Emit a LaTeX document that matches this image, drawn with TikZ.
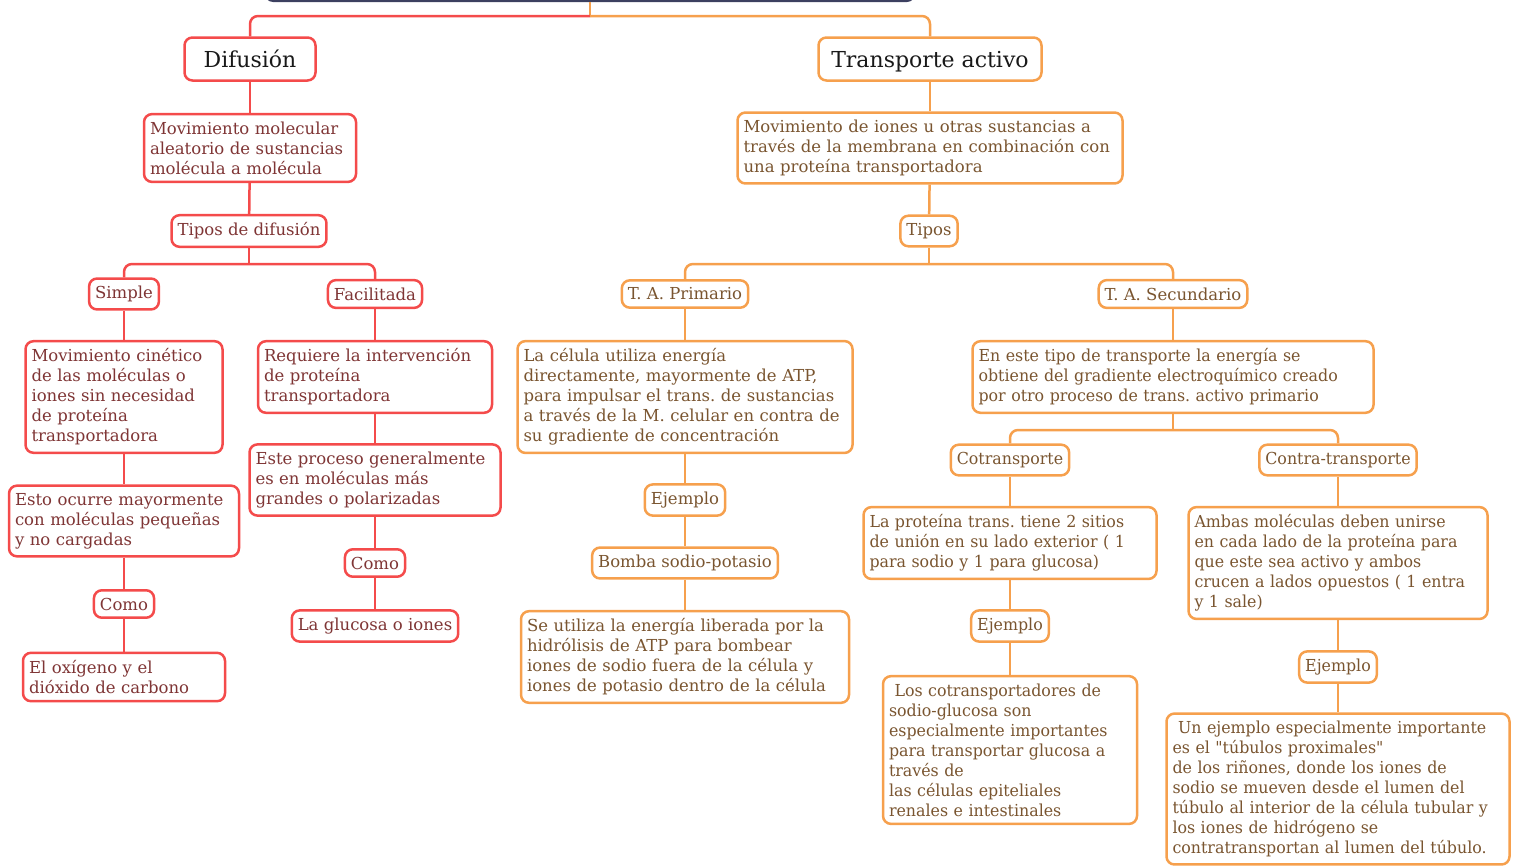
\documentclass[tikz,border=0pt]{standalone}
\usepackage{fontspec}
\setmainfont{DejaVu Serif}
\newfontfamily\narrowserif[FakeStretch=0.96]{DejaVu Serif}
\usepackage{tikz}
\definecolor{redline}{HTML}{F44B4B}
\definecolor{redtext}{HTML}{7F3535}
\definecolor{orangeline}{HTML}{F6A04D}
\definecolor{browntext}{HTML}{7A5530}
\definecolor{rootcol}{HTML}{3C4060}
\tikzset{
    box/.style={rectangle, rounded corners=8pt, line width=2.5pt, fill=white,
        inner xsep=6pt, inner ysep=7.5pt, align=left,
        font=\fontsize{16.5}{20}\selectfont},
    redbox/.style={box, draw=redline, text=redtext},
    orangebox/.style={box, draw=orangeline, text=browntext},
    narrow/.style={font=\fontsize{16.5}{20}\narrowserif},
    titlebox/.style={rectangle, rounded corners=8pt, line width=2.5pt, fill=white,
        text=black!90, font=\fontsize{22}{26}\selectfont,
        text height=16pt, text depth=0pt, minimum height=43pt},
    redlink/.style={draw=redline, line width=2.5pt, rounded corners=8pt},
    orangelink/.style={draw=orangeline, line width=2.5pt, rounded corners=8pt},
}
\frenchspacing
\begin{document}
\begin{tikzpicture}[x=1pt, y=-1pt]
    \useasboundingbox (0,0) rectangle (1515,865);
    \node[rectangle, rounded corners=8pt, fill=rootcol, minimum width=650pt, minimum height=40pt] (root) at (590,-18) {};
    \coordinate (rootsplit) at (590,16);

    \node[titlebox, draw=redline, minimum width=131pt] (dif) at (250,59) {Difusión};
    \node[redbox, text width=200pt] (movmol) at (250,148) {Movimiento molecular\\aleatorio de sustancias\\molécula a molécula};
    \node[redbox] (tiposdif) at (249,231) {Tipos de difusión};
    \coordinate (difsplit) at (249,264);
    \node[redbox] (simple) at (124,294) {Simple};
    \node[redbox] (facil) at (375,294) {Facilitada};
    \node[redbox, text width=185pt] (cinet) at (124,397) {Movimiento cinético\\de las moléculas o\\iones sin necesidad\\de proteína\\transportadora};
    \node[redbox, text width=218pt] (pequen) at (124,521) {Esto ocurre mayormente\\con moléculas pequeñas\\y no cargadas};
    \node[redbox] (comoa) at (124,604) {Como};
    \node[redbox, text width=190pt] (oxig) at (124,677) {El oxígeno y el\\dióxido de carbono};
    \node[redbox, text width=222pt] (requiere) at (375,377) {Requiere la intervención\\de proteína\\transportadora};
    \node[redbox, text width=239pt] (grandes) at (375,480) {Este proceso generalmente\\es en moléculas más\\grandes o polarizadas};
    \node[redbox] (comob) at (375,563) {Como};
    \node[redbox] (gluc) at (375,626) {La glucosa o iones};

    \node[titlebox, draw=orangeline, minimum width=223pt] (tact) at (930,59) {Transporte activo};
    \node[orangebox, text width=373pt] (movion) at (930,148) {Movimiento de iones u otras sustancias a\\través de la membrana en combinación con\\una proteína transportadora};
    \node[orangebox] (tipos) at (929,231) {Tipos};
    \coordinate (tasplit) at (929,264);
    \node[orangebox] (prim) at (685,294) {T. A. Primario};
    \node[orangebox] (secu) at (1173,294) {T. A. Secundario};
    \node[orangebox, text width=323pt] (celula) at (685,397) {La célula utiliza energía\\directamente, mayormente de ATP,\\para impulsar el trans. de sustancias\\a través de la M. celular en contra de\\su gradiente de concentración};
    \node[orangebox] (ejprim) at (685,500) {Ejemplo};
    \node[orangebox] (bomba) at (685,563) {Bomba sodio-potasio};
    \node[orangebox, text width=316pt] (hidrol) at (685,657) {Se utiliza la energía liberada por la\\hidrólisis de ATP para bombear\\iones de sodio fuera de la célula y\\iones de potasio dentro de la célula};
    \node[orangebox, narrow, text width=389pt] (gradiente) at (1173,377) {En este tipo de transporte la energía se\\obtiene del gradiente electroquímico creado\\por otro proceso de trans. activo primario};
    \coordinate (secsplit) at (1173,430);
    \node[orangebox, narrow] (cotr) at (1010,460) {Cotransporte};
    \node[orangebox, narrow] (contr) at (1338,460) {Contra-transporte};
    \node[orangebox, narrow, text width=281pt] (sitios) at (1010,543) {La proteína trans. tiene 2 sitios\\de unión en su lado exterior ( 1\\para sodio y 1 para glucosa)};
    \node[orangebox, narrow] (ejcotr) at (1010,626) {Ejemplo};
    \node[orangebox, narrow, text width=242pt] (sglt) at (1010,750) {\ Los cotransportadores de\\sodio-glucosa son\\especialmente importantes\\para transportar glucosa a\\través de\\las células epiteliales\\renales e intestinales};
    \node[orangebox, narrow, text width=287pt] (ambas) at (1338,563) {Ambas moléculas deben unirse\\en cada lado de la proteína para\\que este sea activo y ambos\\crucen a lados opuestos ( 1 entra\\y 1 sale)};
    \node[orangebox, narrow] (ejcontr) at (1338,667) {Ejemplo};
    \node[orangebox, narrow, text width=331pt] (tubulo) at (1338,789) {\ Un ejemplo especialmente importante\\es el "túbulos proximales"\\de los riñones, donde los iones de\\sodio se mueven desde el lumen del\\túbulo al interior de la célula tubular y\\los iones de hidrógeno se\\contratransportan al lumen del túbulo.};

    \draw[orangelink] (root.south) -- (rootsplit);
    \draw[redlink] (rootsplit) -| (dif.north);
    \draw[orangelink] (rootsplit) -| (tact.north);

    \draw[redlink] (dif) -- (movmol);
    \draw[redlink] (movmol) -- (tiposdif);
    \draw[redlink] (tiposdif) -- (difsplit);
    \draw[redlink] (simple.north) |- (difsplit) -| (facil.north);
    \draw[redlink] (simple) -- (cinet);
    \draw[redlink] (cinet) -- (pequen);
    \draw[redlink] (pequen) -- (comoa);
    \draw[redlink] (comoa) -- (oxig);
    \draw[redlink] (facil) -- (requiere);
    \draw[redlink] (requiere) -- (grandes);
    \draw[redlink] (grandes) -- (comob);
    \draw[redlink] (comob) -- (gluc);

    \draw[orangelink] (tact) -- (movion);
    \draw[orangelink] (movion) -- (tipos);
    \draw[orangelink] (tipos) -- (tasplit);
    \draw[orangelink] (prim.north) |- (tasplit) -| (secu.north);
    \draw[orangelink] (prim) -- (celula);
    \draw[orangelink] (celula) -- (ejprim);
    \draw[orangelink] (ejprim) -- (bomba);
    \draw[orangelink] (bomba) -- (hidrol);
    \draw[orangelink] (secu) -- (gradiente);
    \draw[orangelink] (gradiente) -- (secsplit);
    \draw[orangelink] (cotr.north) |- (secsplit) -| (contr.north);
    \draw[orangelink] (cotr) -- (sitios);
    \draw[orangelink] (sitios) -- (ejcotr);
    \draw[orangelink] (ejcotr) -- (sglt);
    \draw[orangelink] (contr) -- (ambas);
    \draw[orangelink] (ambas) -- (ejcontr);
    \draw[orangelink] (ejcontr) -- (tubulo);
\end{tikzpicture}
\end{document}
